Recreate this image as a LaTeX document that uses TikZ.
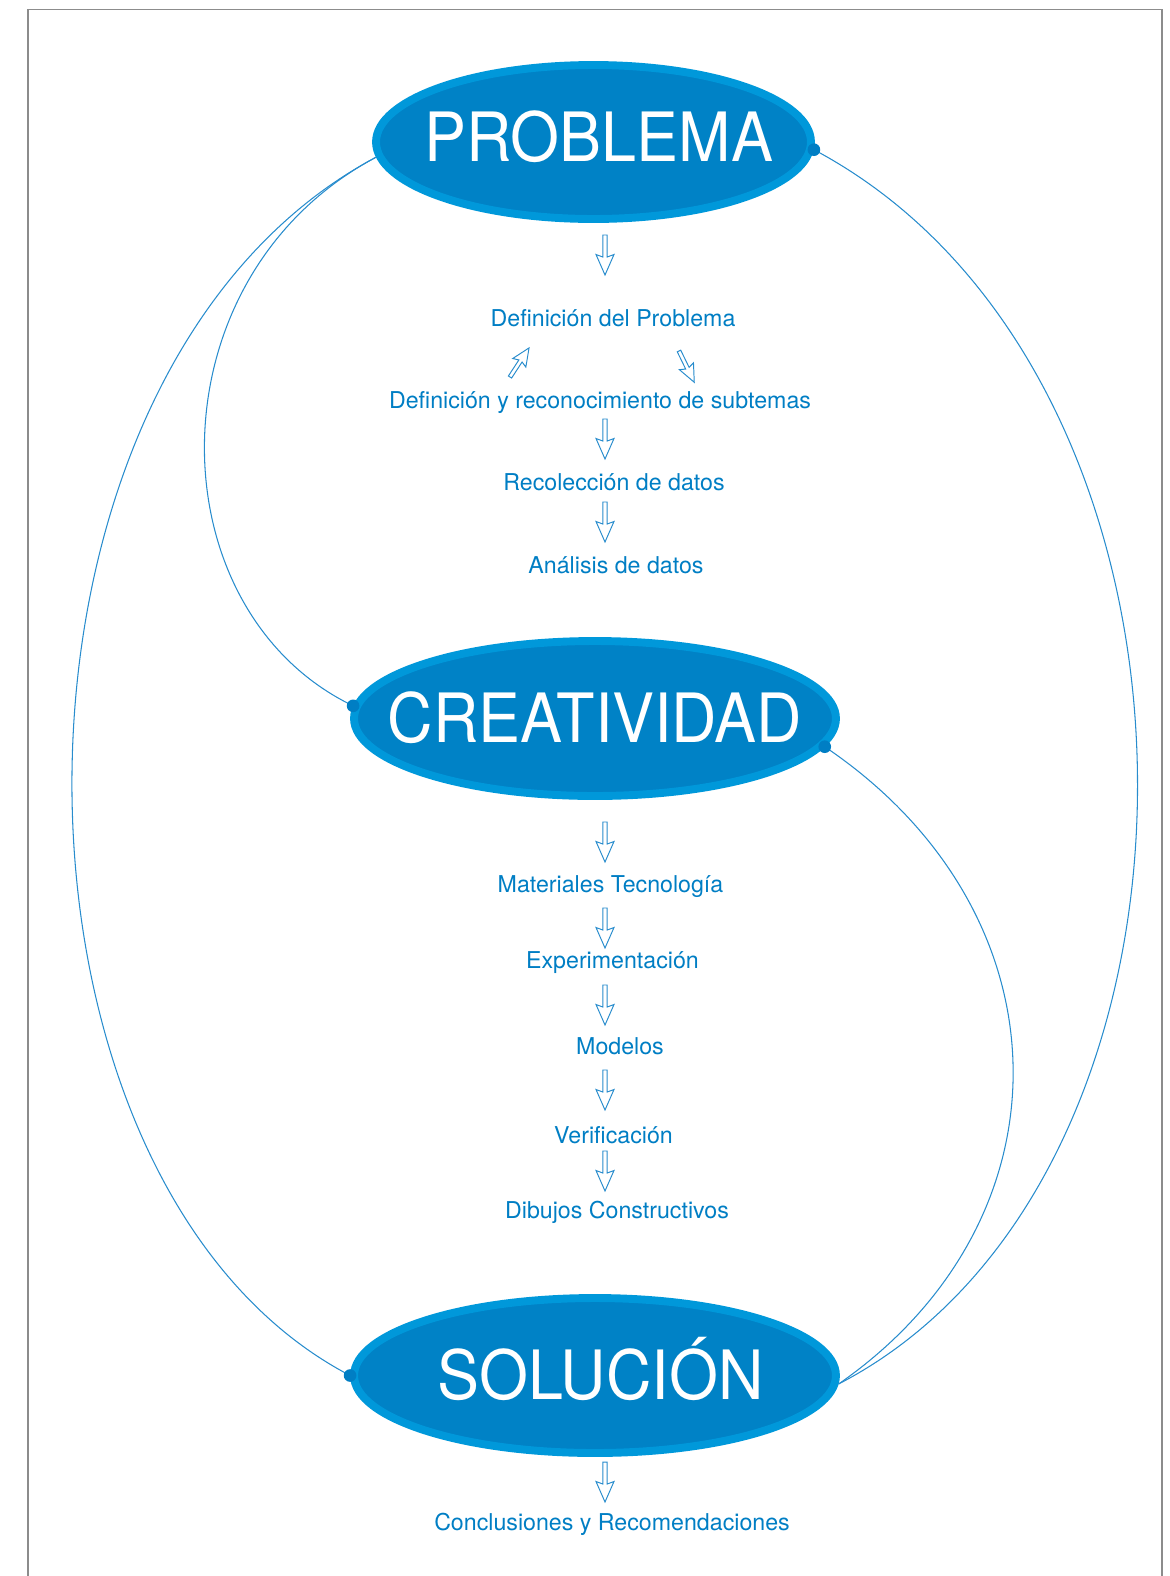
\documentclass[tikz,border=0pt]{standalone}
\usepackage{fontspec}
\setmainfont{TeX Gyre Heros}
\newfontfamily\titulofont[FakeStretch=0.925]{TeX Gyre Heros}
\usetikzlibrary{shapes.geometric}
\definecolor{azulanillo}{RGB}{0,152,218}
\definecolor{azulfondo}{RGB}{0,130,198}
\definecolor{azultexto}{RGB}{0,126,196}
\definecolor{azullinea}{RGB}{40,140,205}
\definecolor{marco}{RGB}{140,140,140}
\newcommand{\titulo}[2][0pt]{\makebox[0pt]{\hspace{#1}#2}}
\tikzset{
    etapa/.style = {ellipse, fill=azulfondo, draw=azulanillo, line width=4.5pt, text=white, inner sep=0pt,
        font=\titulofont\fontsize{38.7}{40}\selectfont, text height=27.8pt, text depth=0pt},
    paso/.style = {text=azultexto, anchor=base, inner sep=0pt, font=\fontsize{13.2}{15}\selectfont},
    enlace/.style = {draw=azullinea, line width=0.6pt},
    punto/.style = {fill=azultexto},
    flechaborde/.style = {draw=azullinea, line width=0.55pt, fill=white, line join=miter},
    flecha/.pic = {\path[flechaborde] (0,2.2) -- (22,2.2) -- (19.5,9) -- (40,0) -- (19.5,-9) -- (22,-2.2) -- (0,-2.2) -- cycle;}}
\begin{document}
\begin{tikzpicture}[x=0.02cm,y=-0.02cm]
    \useasboundingbox (0,0) rectangle (1170,1576);
    \draw[marco, line width=0.85pt] (28,1576) -- (28,9.5) -- (1162,9.5) -- (1162,1576);
    \path (593.5,142) node[etapa, minimum width=8.7cm, minimum height=3.08cm, text depth=5.7pt] (prob) {\titulo[6pt]{PROBLEMA}}
        (595,718.5) node[etapa, minimum width=9.64cm, minimum height=3.1cm] (crea) {\titulo{CREATIVIDAD}}
        (595,1375.5) node[etapa, minimum width=9.64cm, minimum height=3.1cm] (sol) {\titulo[6pt]{SOLUCIÓN}};
    \path (613,326) node[paso] (defprob) {Definición del Problema}
        (600,408) node[paso] (subtemas) {Definición y reconocimiento de subtemas}
        (614,490) node[paso] (recoleccion) {Recolección de datos}
        (616,573) node[paso] (analisis) {Análisis de datos}
        (610.5,892) node[paso] (materiales) {Materiales Tecnología}
        (612.5,968) node[paso] (experimentacion) {Experimentación}
        (620,1054) node[paso] (modelos) {Modelos}
        (613.5,1143) node[paso] (verificacion) {Verificación}
        (617,1218) node[paso] (dibujos) {Dibujos Constructivos}
        (612,1530) node[paso] (conclusiones) {Conclusiones y Recomendaciones};
    % flechas huecas
    \path (605,235) pic[rotate=-90] {flecha}
        (510,377) pic[rotate=56.8, scale=0.87] {flecha}
        (679,351) pic[rotate=-64, scale=0.87] {flecha}
        (605,419) pic[rotate=-90] {flecha}
        (605,502) pic[rotate=-90] {flecha}
        (605,822) pic[rotate=-90] {flecha}
        (605,908) pic[rotate=-90] {flecha}
        (605,985) pic[rotate=-90] {flecha}
        (605,1070) pic[rotate=-90] {flecha}
        (605,1151) pic[rotate=-90] {flecha}
        (605,1462) pic[rotate=-90] {flecha};
    % enlaces
    \draw[enlace] (prob.184.8) to [out=208,in=152.4,out looseness=0.96,in looseness=0.88] (sol.180);
    \draw[enlace] (prob.184.8) to [out=208,in=154.3,out looseness=1.2,in looseness=1.03] (crea.177);
    \draw[enlace] (prob.-2.8) to [out=-28,in=27.4,out looseness=1.0,in looseness=0.94] (sol.-2);
    \draw[enlace] (crea.-7.2) to [out=-34,in=34.8,out looseness=1.19,in looseness=1.16] (sol.-2);
    \fill[punto] (prob.-2.8) circle (3.6pt) (crea.177) circle (3.6pt)
        (crea.-7.2) circle (3.6pt) (sol.180) circle (3.6pt);
\end{tikzpicture}
\end{document}
